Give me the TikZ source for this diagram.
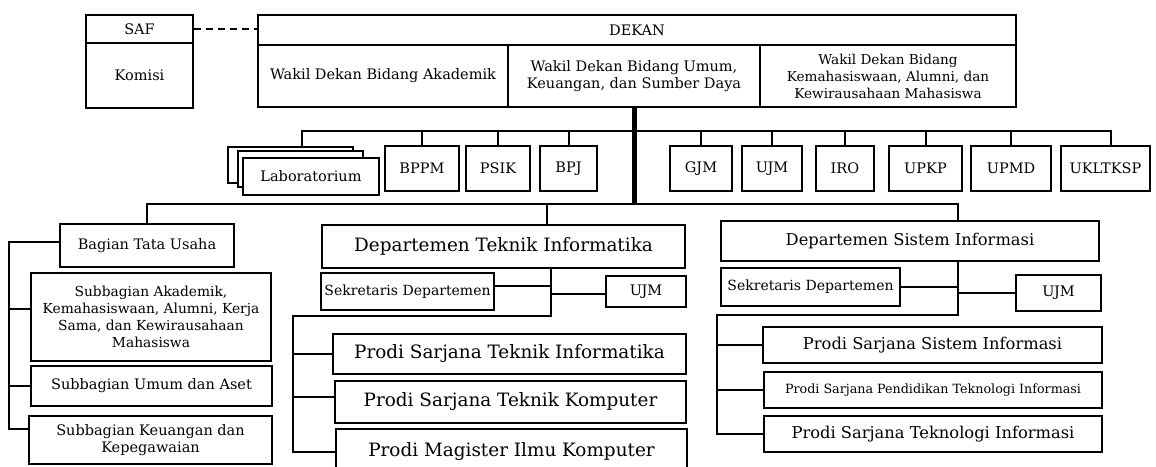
\documentclass[tikz,border=0pt]{standalone}
\usepackage{fontspec}
\setmainfont{DejaVu Serif}
\usetikzlibrary{calc}

\begin{document}
\begin{tikzpicture}[x=1pt,y=-1pt,
	box/.style={draw, line width=2pt, fill=white, inner sep=1pt, align=center, font=\fontsize{14.5}{17}\selectfont},
	link/.style={line width=2pt},
	big/.style={font=\fontsize{18.4}{21}\selectfont},
	mid/.style={font=\fontsize{16.3}{19}\selectfont},
	sz/.style 2 args={minimum width=#1pt, minimum height=#2pt}]
	\useasboundingbox (0,0) rectangle (1156,466);

	\node[box, sz={107}{28}] (saf) at (139.5,29) {SAF};
	\node[box, sz={107}{65}] (komisi) at (139.5,75.5) {Komisi};
	\node[box, sz={758}{30}] (dekan) at (637,30) {DEKAN};
	\node[box, sz={250}{62}] (wda) at (383,76) {Wakil Dekan Bidang Akademik};
	\node[box, sz={252}{62}] (wdu) at (634,76) {Wakil Dekan Bidang Umum,\\Keuangan, dan Sumber Daya};
	\node[box, sz={256}{62}, font=\fontsize{13.6}{17}\selectfont] (wdk) at (888,76) {Wakil Dekan Bidang\\Kemahasiswaan, Alumni, dan\\Kewirausahaan Mahasiswa};

	\node[box, sz={125}{36}] (lab1) at (290.5,165) {};
	\node[box, sz={125}{36}] (lab2) at (300.5,169) {};
	\node[box, sz={136}{37}] (lab) at (311,176.5) {Laboratorium};
	\foreach \n/\t/\x/\w in {bppm/BPPM/422/74, psik/PSIK/498/64, bpj/BPJ/568.5/57, gjm/GJM/701/62, ujm/UJM/772/60, iro/IRO/845/58, upkp/UPKP/925.5/73, upmd/UPMD/1011/80, ukl/UKLTKSP/1105.5/89}
		\node[box, sz={\w}{45}] (\n) at (\x,168.5) {\t};

	\node[box, sz={174}{43}] (btu) at (147,245.5) {Bagian Tata Usaha};
	\node[box, sz={240}{88}, font=\fontsize{13.8}{17}\selectfont] (sba) at (151,317) {Subbagian Akademik,\\Kemahasiswaan, Alumni, Kerja\\Sama, dan Kewirausahaan\\Mahasiswa};
	\node[box, sz={241}{40}] (sbu) at (151.5,386) {Subbagian Umum dan Aset};
	\node[box, sz={243}{48}] (sbk) at (150.5,440) {Subbagian Keuangan dan\\Kepegawaian};

	\node[box, big, sz={363}{43}] (dti) at (503.5,246.5) {Departemen Teknik Informatika};
	\node[box, sz={173}{37}, font=\fontsize{14}{17}\selectfont] (sekti) at (407.5,291.5) {Sekretaris Departemen};
	\node[box, sz={80}{31}] (ujmti) at (646,291.5) {UJM};
	\node[box, big, sz={353}{40}] (pti) at (509.5,354) {Prodi Sarjana Teknik Informatika};
	\node[box, big, sz={351}{42}] (ptk) at (510.5,402) {Prodi Sarjana Teknik Komputer};
	\node[box, big, sz={351}{46}] (pmik) at (511.5,452) {Prodi Magister Ilmu Komputer};

	\node[box, mid, sz={378}{40}] (dsi) at (910,241) {Departemen Sistem Informasi};
	\node[box, sz={179}{38}, font=\fontsize{14}{17}\selectfont] (seksi) at (810.5,287) {Sekretaris Departemen};
	\node[box, sz={85}{36}] (ujmsi) at (1058.5,293) {UJM};
	\node[box, mid, sz={339}{36}] (psi) at (932.5,345) {Prodi Sarjana Sistem Informasi};
	\node[box, sz={338}{36}, font=\fontsize{12.7}{15}\selectfont] (ppti) at (933,390) {Prodi Sarjana Pendidikan Teknologi Informasi};
	\node[box, mid, sz={338}{36}] (psti) at (933,434) {Prodi Sarjana Teknologi Informasi};

	\draw[link, dash pattern=on 7pt off 5pt] (saf.east) -- (saf.east -| dekan.west);

	\coordinate (ubus) at (634,131);
	\coordinate (labin) at ([xshift=11.5pt]lab1.north);
	\coordinate (uklin) at ([xshift=5.5pt]ukl.north);
	\draw[link] (labin) |- (uklin |- ubus) -- (uklin);
	\foreach \n in {bppm,psik,bpj,gjm,ujm,iro,upkp,upmd}
		\draw[link] (\n.north) -- (\n.north |- ubus);

	\coordinate (dbus) at (634,204);
	\draw[line width=5pt] (wdu.south) -- (wdu.south |- dbus);
	\coordinate (tidrop) at ([xshift=43.5pt]dti.north);
	\coordinate (sidrop) at ([xshift=48pt]dsi.north);
	\draw[link] (btu.north) |- (sidrop |- dbus) -- (sidrop);
	\draw[link] (tidrop) -- (tidrop |- dbus);

	\coordinate (lspine) at (9,0);
	\coordinate (btuin) at ([yshift=4pt]btu.west);
	\coordinate (sbain) at ([yshift=8pt]sba.west);
	\coordinate (sbkin) at ([yshift=11pt]sbk.west);
	\draw[link] (btuin) -| (lspine |- sbkin) -- (sbkin);
	\draw[link] (sbain) -- (sbain -| lspine);
	\draw[link] (sbu.west) -- (sbu.west -| lspine);

	\coordinate (tiout) at ([xshift=47.5pt]dti.south);
	\coordinate (tiknee) at (293,316);
	\draw[link] (tiout) |- (tiknee) |- (pmik.west);
	\draw[link] (pti.west) -- (pti.west -| tiknee);
	\coordinate (ptkin) at ([yshift=5pt]ptk.west);
	\draw[link] (ptkin) -- (ptkin -| tiknee);
	\coordinate (sektiout) at ([yshift=5.5pt]sekti.east);
	\draw[link] (sektiout) -- (sektiout -| tiout);
	\coordinate (ujmtiin) at ([yshift=-2.5pt]ujmti.west);
	\draw[link] (ujmtiin) -- (ujmtiin -| tiout);

	\coordinate (siout) at ([xshift=48pt]dsi.south);
	\coordinate (siknee) at (717,315);
	\draw[link] (siout) |- (siknee) |- (psti.west);
	\draw[link] (psi.west) -- (psi.west -| siknee);
	\draw[link] (ppti.west) -- (ppti.west -| siknee);
	\draw[link] (seksi.east) -- (seksi.east -| siout);
	\draw[link] (ujmsi.west) -- (ujmsi.west -| siout);

\end{tikzpicture}
\end{document}
